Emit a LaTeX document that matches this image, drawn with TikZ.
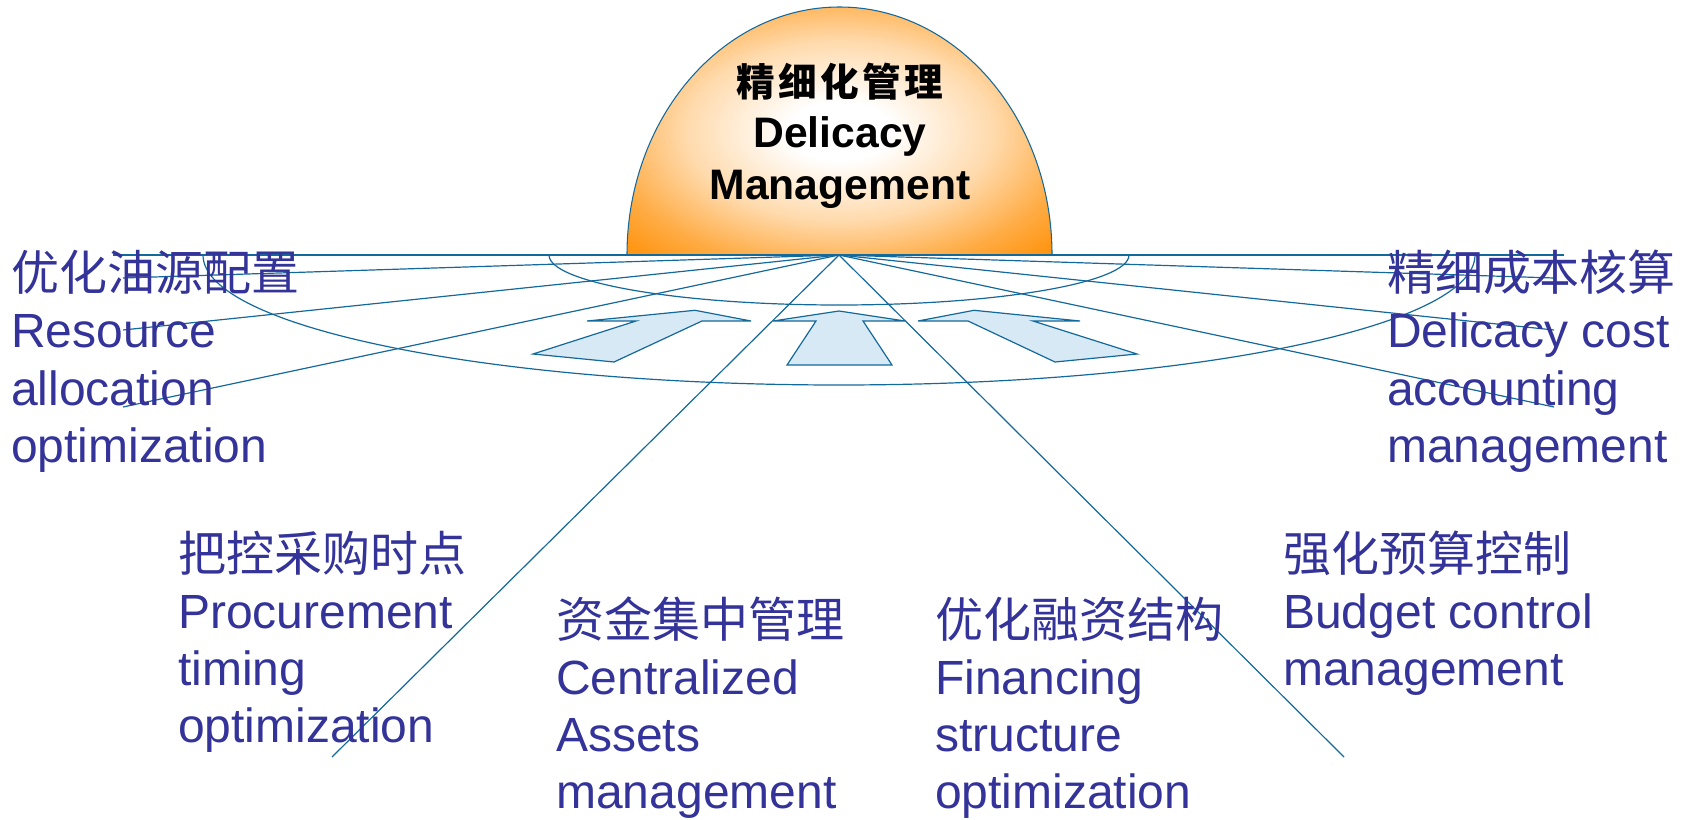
\documentclass[tikz,border=0pt]{standalone}
\usepackage{fontspec}
\setmainfont{Liberation Sans}
\newfontfamily\cjk{Noto Sans CJK SC}
\definecolor{txtblue}{RGB}{51,51,153}
\definecolor{linec}{RGB}{20,105,155}
\definecolor{arrowfill}{RGB}{214,233,245}
\definecolor{domeor}{RGB}{255,150,20}
\pgfdeclareradialshading{domeglow}{\pgfpoint{0bp}{0bp}}{color(0bp)=(white); color(6bp)=(white); color(18bp)=(domeor!35!white); color(28bp)=(domeor!80!white); color(34bp)=(domeor); color(50bp)=(domeor)}
\begin{document}
\begin{tikzpicture}[x=0.75pt,y=0.75pt,
  conn/.style={draw=linec, line width=0.9pt},
  arrowshape/.style={draw=linec, fill=arrowfill, line width=0.9pt, line join=miter},
  lbl/.style={anchor=base west, inner sep=0pt, text=txtblue, font=\fontsize{36pt}{42.75pt}\selectfont},
  ttl/.style={anchor=base, inner sep=0pt, text=black}]
\useasboundingbox (0,0) rectangle (1691,819);

% dome
\shadedraw[shading=domeglow, draw=linec, line width=0.8pt]
  (627,564) arc[start angle=180, end angle=0, x radius=212.5, y radius=248] -- cycle;

% ellipses (lower halves)
\draw[conn] (203,564) arc[start angle=180, end angle=360, x radius=636, y radius=130];
\draw[conn] (549,564) arc[start angle=180, end angle=360, x radius=290, y radius=50];

% arrows
\draw[arrowshape] (587,498) -- (695,508.7) -- (751,498) -- (702,498) -- (614,457) -- (533,465) -- (636,498) -- cycle;
\draw[arrowshape] (773,498) -- (839,508) -- (905,498) -- (863,498) -- (892,454) -- (787,454) -- (816,498) -- cycle;
\draw[arrowshape] (918,498) -- (974,508.7) -- (1080,498) -- (1033,498) -- (1137,465) -- (1055,457) -- (968,498) -- cycle;

% fan
\coordinate (hub) at (839,564);
\coordinate (L1) at (113,564);
\coordinate (L2) at (123,541);
\coordinate (L3) at (123,489);
\coordinate (L4) at (123,412);
\coordinate (R1) at (1564,564);
\coordinate (R2) at (1554,541);
\coordinate (R3) at (1554,489);
\coordinate (R4) at (1554,412);
\coordinate (D1) at (332,62);
\coordinate (D2) at (1344,62);
\foreach \e in {L1,L2,L3,L4,R1,R2,R3,R4,D1,D2} \draw[conn] (hub) -- (\e);

% title
\node[ttl, font=\cjk\bfseries\fontsize{29pt}{34pt}\selectfont] (t1) at (840,722) {精\kern2.5pt 细\kern2.5pt 化\kern2.5pt 管\kern2.5pt 理};
\node[ttl, font=\bfseries\fontsize{32pt}{38pt}\selectfont] (t2) at (840,671) {Delicacy};
\node[ttl, font=\bfseries\fontsize{32pt}{38pt}\selectfont] (t3) at (840,619) {Management};

% labels
\node[lbl] (a) at (11,528) {\begin{tabular}[t]{@{}l@{}}{\cjk 优化油源配置}\\Resource\\allocation\\optimization\end{tabular}};
\node[lbl] (b) at (1387,528) {\begin{tabular}[t]{@{}l@{}}{\cjk 精细成本核算}\\Delicacy cost\\accounting\\management\end{tabular}};
\node[lbl] (c) at (178,248) {\begin{tabular}[t]{@{}l@{}}{\cjk 把控采购时点}\\Procurement\\timing\\optimization\end{tabular}};
\node[lbl] (d) at (556,182) {\begin{tabular}[t]{@{}l@{}}{\cjk 资金集中管理}\\Centralized\\Assets\\management\end{tabular}};
\node[lbl] (e) at (935,182) {\begin{tabular}[t]{@{}l@{}}{\cjk 优化融资结构}\\Financing\\structure\\optimization\end{tabular}};
\node[lbl] (f) at (1283,248) {\begin{tabular}[t]{@{}l@{}}{\cjk 强化预算控制}\\Budget control\\management\end{tabular}};
\end{tikzpicture}
\end{document}
